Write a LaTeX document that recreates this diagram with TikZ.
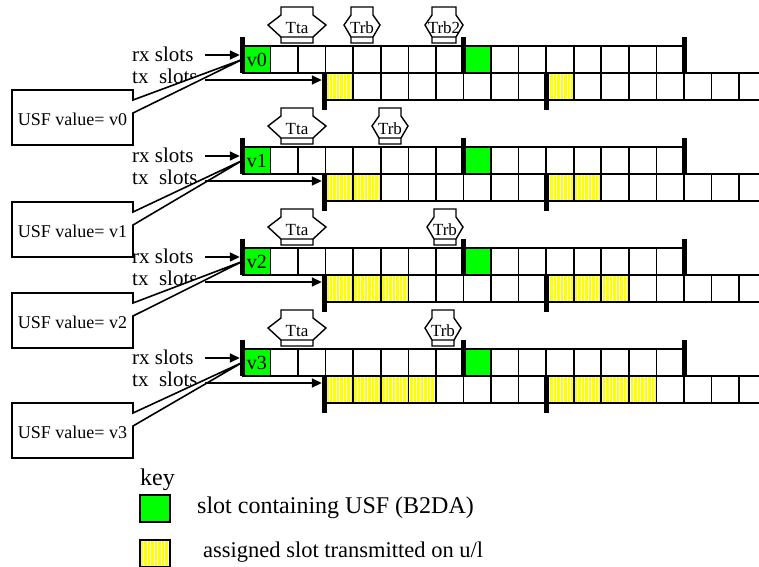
\documentclass[tikz,border=0pt]{standalone}
\usepackage{fontspec}
\setmainfont{Liberation Serif}
\usetikzlibrary{arrows.meta, patterns.meta}

\definecolor{usfgreen}{RGB}{0,255,0}
\definecolor{ulyellow}{RGB}{255,255,0}

% timing marker: left tip, right tip, head depth, row top, label, name
\newcommand{\timemark}[6]{%
  \draw[markline] (#1,#4-21) -- (#1+#3,#4-31) -- (#1+#3,#4-39) -- (#2-#3,#4-39) -- (#2-#3,#4-31)
    -- (#2,#4-21) -- (#2-#3,#4-9) -- (#2-#3,#4-3) -- (#1+#3,#4-3) -- (#1+#3,#4-9) -- cycle
    (#1+#3,#4-9) -- (#2-#3,#4-9);
  \node[marktext, anchor=base] (#6) at ({(#1+#2)/2},#4-13) {#5};}

\begin{document}
\begin{tikzpicture}[x=1pt, y=-1pt,
  slot/.style={draw, line width=1.6pt},
  usfslot/.style={rectangle, draw, line width=1.6pt, fill=usfgreen, minimum width=27.56pt, minimum height=27pt, inner sep=0pt, font=\fontsize{20}{22}\selectfont},
  ulslot/.style={rectangle, draw, line width=1.6pt, preaction={fill=ulyellow}, pattern={Lines[angle=90, distance=3.5pt, line width=0.7pt]}, pattern color=white, minimum width=27.56pt, minimum height=27pt, inner sep=0pt},
  bar/.style={rectangle, fill=black, minimum width=5pt, inner sep=0pt},
  markline/.style={draw, line width=1.4pt, fill=white},
  marktext/.style={inner sep=0pt, font=\fontsize{17}{19}\selectfont},
  slotlbl/.style={inner sep=0pt, font=\fontsize{21}{23}\selectfont},
  usflbl/.style={inner sep=0pt, font=\fontsize{18}{20}\selectfont},
  callout/.style={draw, line width=1.6pt, fill=white},
  slotarr/.style={-{Triangle[length=10pt, width=9pt]}, line width=1.6pt},
  keytext/.style={inner sep=0pt, font=\fontsize{24}{26}\selectfont}
]
\useasboundingbox (0,0) rectangle (759,566);

\foreach \r/\T/\B/\nyel/\ta/\tb in {0/46/90/1/344/380, 1/147/202/2/372/408, 2/248/293/3/427/463, 3/349/403/4/425/461} {
  % rx and tx slots
  \foreach \i in {0,...,15} \draw[slot] ({243+27.56*\i},\T) rectangle +(27.56,27);
  \foreach \i in {3,...,17} \draw[slot] ({243+27.56*\i},\T+27) rectangle +(27.56,27);
  \draw[slot] (739,\T+27) -- (762,\T+27) (739,\T+54) -- (762,\T+54);
  \node[usfslot] (v\r) at (256.78,\T+13.5) {v\r};
  \node[usfslot] (w\r) at ({243+27.56*8.5},\T+13.5) {};
  \foreach \i in {1,...,\nyel} {
    \node[ulslot] (ua\r\i) at ({243+27.56*(2.5+\i)},\T+40.5) {};
    \node[ulslot] (ub\r\i) at ({243+27.56*(10.5+\i)},\T+40.5) {};
  }
  % timing markers
  \timemark{268}{326}{13}{\T}{Tta}{tta\r}
  \timemark{\ta}{\tb}{7}{\T}{Trb}{trb\r}
  % labels
  \node[slotlbl, anchor=base west] (rxlbl\r) at (132,\T+15) {rx slots};
  \node[slotlbl, anchor=base west] (txlbl\r) at (132,\T+37) {tx\ \ slots};
  % USF callout
  \draw[callout] (12,\B) -- (133,\B) -- (133,\B+10) -- (v\r.west) -- (133,\B+23) -- (133,\B+55) -- (12,\B+55) -- cycle;
  \node[usflbl] (usf\r) at (72.5,\B+29) {USF value= v\r};
  % frame bars
  \node[bar, minimum height=36pt] (rxa\r) at (242.5,\T+9) {};
  \node[bar, minimum height=36pt] (rxb\r) at (463,\T+9) {};
  \node[bar, minimum height=36pt] (rxc\r) at (684,\T+9) {};
  \node[bar, minimum height=37pt] (txa\r) at (324.5,\T+45.5) {};
  \node[bar, minimum height=37pt] (txb\r) at (546,\T+45.5) {};
  % arrows
  \coordinate (rxfrom\r) at (205,\T+9);
  \coordinate (txfrom\r) at (205,\T+34);
  \draw[slotarr] (rxfrom\r) -- (rxa\r.west);
  \draw[slotarr] (txfrom\r) -- (txfrom\r -| txa\r.west);
}
\timemark{425}{463}{7}{46}{Trb2}{trbtwo}

% key
\node[keytext, anchor=base west] (keyttl) at (140,485) {key};
\node[usfslot, minimum width=30pt] (keyusf) at (155,508.5) {};
\node[keytext, anchor=base west] (keyusftxt) at (197,513) {slot containing USF (B2DA)};
\node[ulslot, minimum width=30pt] (keyul) at (155,553.5) {};
\node[keytext, anchor=base west, font=\fontsize{22.5}{24}\selectfont] (keyultxt) at (203,557) {assigned slot transmitted on u/l};

\end{tikzpicture}
\end{document}
